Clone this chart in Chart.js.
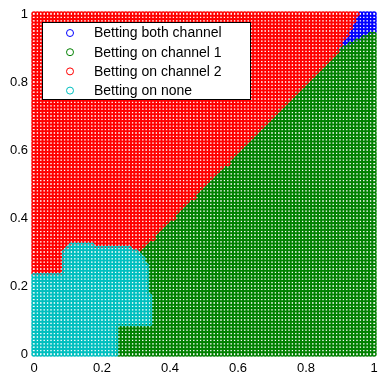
<!DOCTYPE html>
<html lang="en">
<head>
<meta charset="UTF-8">
<title>Betting regions</title>
<script src="https://cdn.jsdelivr.net/npm/chart.js"></script>
<style>
  body { margin: 0; background: #fff; }
  canvas { display: block; }
</style>
</head>
<body>
<canvas id="myChart" width="391" height="380"></canvas>
<script>
// legend labels and colours (matlab default order b, g, r, c)
const categories = ['Betting both channel', 'Betting on channel 1', 'Betting on channel 2', 'Betting on none'];
const colors = ['#0000ff', '#008000', '#ff0000', '#00bfbf'];
const xTicks = [0, 0.2, 0.4, 0.6, 0.8, 1];
const yTicks = [0, 0.2, 0.4, 0.6, 0.8, 1];

// the points sit on a 0.01 grid from 0 to 1
const gridSteps = 100;

// red / green border (red above, green below)
const borderX = [0, 0.31, 0.64, 0.90, 1.0];
const borderY = [-0.01, 0.30, 0.63, 0.895, 0.96];

// blue wedge in the top right corner
const bothX = [0.895, 0.96, 1.01, 1.01];
const bothY = [0.895, 1.01, 1.01, 0.955];

// cyan blob at the bottom left
const noneX = [-0.01, -0.01, 0.085, 0.09, 0.105, 0.175, 0.185, 0.28, 0.305, 0.32, 0.333, 0.333, 0.345, 0.345, 0.335, 0.245, 0.245];
const noneY = [-0.01, 0.235, 0.235, 0.305, 0.325, 0.325, 0.313, 0.313, 0.300, 0.285, 0.265, 0.175, 0.168, 0.090, 0.083, 0.083, -0.01];

function inside(px, py, xs, ys) {
  let c = false;
  for (let i = 0, j = xs.length - 1; i < xs.length; j = i++) {
    if (((ys[i] > py) != (ys[j] > py)) &&
        (px < (xs[j] - xs[i]) * (py - ys[i]) / (ys[j] - ys[i]) + xs[i])) c = !c;
  }
  return c;
}

function borderAt(x) {
  for (let i = 1; i < borderX.length; i++) {
    if (x <= borderX[i]) {
      let t = (x - borderX[i - 1]) / (borderX[i] - borderX[i - 1]);
      return borderY[i - 1] + t * (borderY[i] - borderY[i - 1]);
    }
  }
  return borderY[borderY.length - 1];
}

var groups = [[], [], [], []];
for (let i = 0; i <= gridSteps; i++) {
  for (let j = 0; j <= gridSteps; j++) {
    let x = i / gridSteps, y = j / gridSteps;
    let k;
    if (inside(x, y, bothX, bothY)) k = 0;
    else if (inside(x, y, noneX, noneY)) k = 3;
    else if (y > borderAt(x)) k = 2;
    else k = 1;
    groups[k].push({x: x, y: y});
  }
}

const datasets = categories.map(function (name, k) {
  return {
    label: name,
    data: groups[k],
    borderColor: colors[k],
    backgroundColor: 'rgba(0,0,0,0)',
    pointRadius: 2,
    pointBorderWidth: 1.5,
    clip: false,
    order: 3 - k
  };
});

// legend box drawn inside the plot, like matlab does
const boxLegend = {
  id: 'boxLegend',
  afterDraw(chart) {
    const c = chart.ctx;
    c.save();
    c.fillStyle = '#fff';
    c.fillRect(42, 22, 208, 77);
    c.strokeStyle = '#000';
    c.lineWidth = 1;
    c.strokeRect(42.5, 22.5, 208, 77);
    c.font = '14px "Liberation Sans", Arial, sans-serif';
    c.textBaseline = 'middle';
    chart.data.datasets.forEach(function (ds, k) {
      let y = 33 + k * 19.2;
      c.beginPath();
      c.arc(70, y, 3.5, 0, Math.PI * 2);
      c.strokeStyle = ds.borderColor;
      c.stroke();
      c.fillStyle = '#000';
      c.fillText(ds.label, 94, y + 0.5);
    });
    c.restore();
  }
};

const tickFont = { family: '"Liberation Sans", Arial, sans-serif', size: 13 };
const tickText = function (v) { return String(Math.round(v * 10) / 10); };

const config = {
  type: 'scatter',
  data: { datasets: datasets },
  options: {
    responsive: false,
    animation: false,
    events: [],
    layout: { padding: { top: 14, right: 17, left: 0, bottom: 0 } },
    plugins: { legend: { display: false }, tooltip: { enabled: false } },
    scales: {
      x: {
        type: 'linear', min: 0, max: 1,
        grid: { display: false, drawTicks: false },
        border: { display: false },
        afterBuildTicks: function (s) { s.ticks = xTicks.map(v => ({ value: v })); },
        afterFit: function (s) { s.height = 26; },
        ticks: { color: '#000', font: tickFont, padding: 7, maxRotation: 0, callback: tickText }
      },
      y: {
        type: 'linear', min: 0, max: 1,
        grid: { display: false, drawTicks: false },
        border: { display: false },
        afterBuildTicks: function (s) { s.ticks = yTicks.map(v => ({ value: v })); },
        afterFit: function (s) { s.width = 34; },
        ticks: { color: '#000', font: tickFont, padding: 6, callback: tickText }
      }
    }
  },
  plugins: [boxLegend]
};

let myChart = new Chart(document.getElementById('myChart'), config);
</script>
</body>
</html>
